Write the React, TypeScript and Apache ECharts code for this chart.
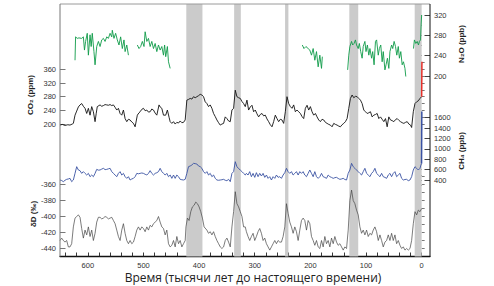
import React, { useEffect, useRef } from "react";
import * as echarts from "echarts";

// ---- axis ticks / labels ----
const X_TICKS = [0, 20, 40, 60, 80, 100, 120, 140, 160, 180, 200, 220, 240, 260, 280, 300, 320, 340, 360, 380, 400, 420, 440, 460, 480, 500, 520, 540, 560, 580, 600, 620, 640];
const X_LABELS = [0, 100, 200, 300, 400, 500, 600];
const CO2_TICKS = [200, 220, 240, 260, 280, 300, 320, 340, 360, 380];
const CO2_LABELS = [200, 240, 280, 320, 360];
const N2O_TICKS = [200, 220, 240, 260, 280, 300, 320];
const N2O_LABELS = [200, 240, 280, 320];
const CH4_TICKS = [300, 400, 500, 600, 700, 800, 900, 1000, 1100, 1200, 1300, 1400, 1500, 1600, 1700];
const CH4_LABELS = [400, 600, 800, 1000, 1200, 1400, 1600];
const DD_TICKS = [-440, -430, -420, -410, -400, -390, -380, -370, -360, -350];
const DD_LABELS = [-440, -420, -400, -380, -360];

// interglacial bands (kyr BP)
const BANDS = [[423, 394], [337, 325], [245.5, 239.5], [130, 114], [12.5, 0]];

// ---- data: [kyr BP, value] ----
const CO2 = [[650,197],[646,199],[641,196],[636,198],[632,197],[628,200],[626,202],[623,226],[620,238],[617,250],[614,256],[611,260],[608,252],[605,246],[602,231],[599,246],[596,226],[593,251],[590,236],[587,207],[585,230],[583,251],[580,254],[578,256],[575,252],[572,254],[569,257],[566,256],[563,255],[560,257],[557,254],[554,256],[551,249],[548,241],[545,246],[542,231],[539,226],[536,241],[533,216],[530,207],[527,214],[524,212],[521,206],[518,202],[515,192],[511,226],[508,233],[506,236],[503,243],[500,246],[497,239],[494,241],[491,235],[488,236],[485,244],[482,241],[479,232],[476,226],[472,256],[470,250],[467,246],[464,226],[460,226],[457,241],[454,220],[452,207],[449,202],[446,207],[443,200],[440,205],[437,203],[434,209],[431,204],[428,205],[425,212],[422,270],[419,272],[416,275],[413,273],[410,280],[407,277],[404,280],[401,283],[398,287],[395,285],[392,280],[389,265],[386,260],[383,251],[380,256],[377,246],[374,231],[371,222],[368,212],[365,204],[362,197],[359,200],[356,202],[353,221],[350,216],[347,209],[344,207],[341,241],[338,246],[335,299],[332,280],[329,277],[326,275],[323,266],[320,260],[317,251],[314,270],[311,241],[308,250],[305,255],[302,236],[299,241],[296,230],[293,221],[290,228],[287,231],[284,224],[281,226],[278,215],[275,207],[272,198],[269,192],[266,207],[263,226],[260,216],[257,207],[254,214],[251,212],[248,202],[245,236],[242,280],[239,260],[236,251],[233,246],[230,256],[227,236],[224,241],[221,236],[218,231],[215,222],[212,216],[209,246],[206,255],[203,241],[200,251],[197,236],[194,226],[191,231],[188,221],[185,212],[182,207],[179,214],[176,212],[173,205],[170,202],[167,199],[164,197],[161,192],[158,202],[155,199],[152,197],[149,194],[146,192],[143,198],[140,202],[137,207],[134,216],[131,246],[128,275],[125,285],[122,277],[119,281],[116,280],[113,275],[110,270],[107,260],[104,241],[101,236],[98,231],[95,233],[92,236],[89,221],[86,226],[83,228],[80,231],[77,216],[74,221],[71,214],[68,207],[65,216],[62,192],[59,221],[56,212],[53,210],[50,207],[47,213],[44,216],[41,211],[38,207],[35,204],[32,202],[29,205],[26,207],[23,200],[20,197],[18,190],[15,236],[12,260],[9,265],[6,268],[3,275],[0,280]];
const CO2_MODERN = [[0,280],[-0.5,382]];

const N2O = [[623,231],[622,277],[619,274],[616,275],[611,274],[608,277],[606,251],[604,268],[601,284],[599,241],[596,281],[594,258],[592,284],[589,248],[587,222],[584,258],[581,268],[578,258],[575,271],[572,274],[569,268],[566,277],[563,274],[560,284],[557,277],[556,290],[553,274],[550,284],[547,271],[544,261],[541,277],[538,254],[535,271],[533,248],[530,261],[527,241],[520,null],[511,261],[508,254],[505,258],[502,268],[499,258],[497,287],[494,268],[491,274],[488,258],[485,268],[482,254],[479,264],[476,248],[473,261],[470,251],[467,258],[464,241],[462,261],[460,238],[457,258],[455,228],[452,215],[300,null],[214.5,261],[211.5,254],[208,258],[204,254],[201,251],[198,241],[195,254],[192,231],[189,248],[186,218],[183,241],[180,215],[178.5,238],[150,null],[133,212],[131,241],[129,258],[126,268],[124,261],[121.5,264],[119,271],[117,261],[114,254],[112,264],[109.5,248],[107,235],[105,258],[102,268],[100,248],[97.5,261],[95,241],[93,254],[90,235],[88,248],[85.5,222],[83,268],[81,271],[78,241],[76,254],[73.5,261],[71,228],[69,248],[66,212],[64,222],[61.5,235],[59,215],[57,248],[54,261],[52,254],[49.5,268],[47,258],[44.7,241],[42,258],[40,235],[37.5,248],[35,222],[32.7,228],[30,215],[28.5,199],[22,null],[14.7,254],[13,271],[10.5,264],[8,268],[5.7,261],[4,268],[2,271],[1,300],[0,320]];

const CH4 = [[650,400],[647,390],[644,368],[641,395],[638,413],[635,420],[632,432],[629,368],[626,400],[623,528],[620,657],[617,593],[614,580],[611,528],[608,561],[605,528],[602,496],[599,528],[596,464],[593,496],[590,464],[587,528],[584,605],[581,590],[578,593],[575,610],[572,625],[569,600],[566,605],[563,615],[560,625],[557,561],[554,528],[551,496],[548,464],[545,528],[542,561],[539,496],[536,528],[533,464],[530,432],[527,464],[524,400],[521,420],[518,432],[515,464],[512,528],[509,520],[506,528],[503,535],[500,528],[497,510],[494,496],[491,528],[488,580],[485,528],[482,496],[479,528],[476,540],[473,561],[470,625],[467,561],[464,528],[461,496],[458,528],[455,464],[452,496],[449,432],[446,496],[443,432],[440,496],[437,464],[434,413],[431,405],[428,400],[425,413],[422,528],[419,657],[416,670],[413,689],[410,721],[407,715],[404,708],[401,670],[398,657],[395,625],[392,561],[389,528],[386,561],[383,496],[380,528],[377,464],[374,496],[371,432],[368,400],[365,395],[362,400],[359,405],[356,413],[353,395],[350,387],[347,413],[344,368],[341,528],[338,561],[335,753],[332,657],[329,620],[326,593],[323,561],[320,528],[317,496],[315,528],[312,496],[309,561],[306,464],[303,528],[300,451],[297,541],[294,464],[291,528],[288,477],[285,528],[282,451],[279,496],[276,432],[273,464],[270,400],[267,464],[264,432],[261,496],[258,451],[255,464],[252,432],[249,496],[246,541],[243,625],[240,561],[237,528],[234,561],[231,496],[228,528],[225,561],[222,496],[219,561],[216,528],[213,561],[210,496],[207,464],[204,528],[201,593],[198,528],[195,464],[192,561],[189,464],[186,432],[183,464],[180,528],[177,464],[174,450],[171,432],[168,496],[165,464],[162,450],[159,432],[156,445],[153,451],[150,430],[147,413],[144,420],[141,432],[138,410],[135,400],[132,528],[129,593],[126,721],[123,657],[120,625],[117,593],[114,560],[111,528],[108,496],[105,561],[102,625],[99,528],[96,496],[93,464],[90,528],[87,561],[84,625],[81,528],[78,496],[75,464],[72,528],[69,464],[66,450],[63,432],[60,496],[57,528],[54,464],[51,528],[48,561],[45,464],[42,496],[39,528],[36,432],[33,400],[30,410],[27,413],[24,387],[21,400],[18,464],[15,593],[12,657],[9,625],[6,593],[3,625],[1,700],[0,720]];
const CH4_MODERN = [[0.2,720],[-0.3,1720]];

const DD = [[650,-430],[647,-427],[644,-430],[641,-432],[638,-430],[635,-438],[632,-438],[629,-434],[626,-413],[623,-402],[620,-400],[617,-398],[614,-401],[611,-415],[608,-427],[605,-417],[602,-423],[599,-413],[596,-425],[593,-417],[590,-430],[587,-421],[584,-407],[581,-401],[578,-401],[575,-403],[572,-402],[569,-400],[566,-401],[563,-403],[560,-402],[557,-401],[554,-405],[551,-409],[548,-417],[545,-425],[542,-430],[539,-417],[536,-409],[533,-421],[530,-430],[527,-434],[524,-430],[521,-434],[518,-432],[515,-425],[512,-417],[509,-413],[506,-417],[503,-413],[500,-415],[497,-419],[494,-413],[491,-417],[488,-411],[485,-413],[482,-409],[479,-407],[476,-405],[473,-400],[470,-407],[467,-413],[464,-415],[461,-423],[458,-417],[455,-434],[452,-438],[449,-436],[446,-430],[443,-438],[440,-425],[437,-434],[434,-430],[431,-438],[428,-434],[425,-430],[423.6,-413],[421,-402],[418,-405],[415,-394],[412,-388],[409,-386],[406,-382],[403,-384],[400,-388],[397,-394],[394,-402],[391,-413],[386,-417],[383,-421],[380,-419],[377,-423],[374,-419],[371,-425],[368,-430],[365,-434],[362,-438],[359,-440],[356,-438],[353,-430],[350,-427],[347,-432],[344,-438],[341,-413],[338,-394],[335,-369],[332,-384],[329,-388],[326,-394],[323,-400],[320,-413],[317,-413],[315,-419],[312,-425],[309,-430],[306,-425],[303,-421],[300,-430],[297,-425],[294,-419],[291,-415],[288,-421],[285,-430],[282,-427],[279,-434],[276,-438],[273,-442],[270,-438],[267,-434],[264,-430],[261,-434],[258,-430],[255,-432],[252,-432],[249,-425],[246,-413],[243,-384],[240,-396],[237,-407],[234,-413],[231,-421],[228,-413],[225,-419],[222,-430],[219,-417],[216,-405],[213,-402],[210,-405],[207,-417],[204,-405],[201,-409],[198,-425],[195,-430],[192,-436],[189,-430],[186,-438],[183,-440],[180,-430],[177,-438],[174,-425],[171,-434],[168,-430],[165,-438],[162,-427],[159,-434],[156,-425],[153,-432],[150,-436],[147,-434],[144,-438],[141,-442],[138,-438],[135,-440],[132,-417],[129,-380],[126,-367],[123,-380],[120,-384],[117,-392],[114,-398],[111,-413],[108,-421],[105,-417],[102,-423],[99,-417],[96,-425],[93,-421],[90,-423],[87,-417],[84,-413],[81,-419],[78,-430],[75,-423],[72,-430],[69,-438],[66,-432],[63,-430],[60,-423],[57,-430],[54,-421],[51,-430],[48,-423],[45,-434],[42,-430],[39,-436],[36,-440],[33,-438],[30,-442],[27,-440],[24,-442],[21,-440],[18,-430],[15,-409],[12,-394],[9,-398],[6,-392],[3,-394],[0,-390]];

const FONT = "'Liberation Sans', Arial, Helvetica, sans-serif";
const GREEN = "#0f9b48";
const BLUE = "#3a52a3";
const RED = "#e8302a";

const plain = (v: number) => String(v);

function yPair(gridIndex: number, position: string, min: number, max: number, ticks: number[], labels: number[], tickColor: string) {
  const base = { type: "value", gridIndex, position, min, max, axisLine: { show: false }, splitLine: { show: false } };
  return [
    {
      ...base,
      axisTick: { show: true, inside: true, length: 3, customValues: ticks, lineStyle: { color: tickColor, width: 0.8 } },
      axisLabel: { show: true, customValues: labels, formatter: plain, fontSize: 7.5, color: "#333", margin: 4, fontFamily: FONT },
    },
    {
      ...base,
      axisTick: { show: true, inside: true, length: 5.5, customValues: labels, lineStyle: { color: tickColor, width: 0.8 } },
      axisLabel: { show: false },
    },
  ];
}

export default function App() {
  const ref = useRef<HTMLDivElement>(null);
  useEffect(() => {
    if (!ref.current) return;
    const chart = echarts.init(ref.current, null, { renderer: "svg" });
    const L = 60, R = 64;
    const grids = [
      { left: L, right: R, top: 4, height: 252.5 },
      { left: L, right: R, top: 15, height: 61 },
      { left: L, right: R, top: 62.5, height: 68.4 },
      { left: L, right: R, top: 112.5, height: 72.7 },
      { left: L, right: R, top: 176.5, height: 80 },
    ].map((g) => ({ ...g, containLabel: false, outerBoundsMode: "none" }));

    const xAxes = [0, 1, 2, 3, 4].map((i) => ({
      type: "value",
      gridIndex: i,
      min: -15,
      max: 650,
      inverse: true,
      show: i === 0,
      position: "bottom",
      axisLine: { show: true, lineStyle: { color: "#111", width: 1.3 } },
      axisTick: { show: true, inside: true, length: 4, customValues: X_TICKS, lineStyle: { color: "#222", width: 0.9 } },
      axisLabel: { show: true, customValues: X_LABELS, formatter: plain, fontSize: 7.5, color: "#333", margin: 5, fontFamily: FONT },
      splitLine: { show: false },
    }));

    const yAxes = [
      { type: "value", gridIndex: 0, min: 0, max: 1, show: false },
      ...yPair(1, "right", 200, 320, N2O_TICKS, N2O_LABELS, "#111"),
      ...yPair(2, "left", 180, 380, CO2_TICKS, CO2_LABELS, "#555"),
      ...yPair(3, "right", 300, 1700, CH4_TICKS, CH4_LABELS, "#111"),
      ...yPair(4, "left", -450, -350, DD_TICKS, DD_LABELS, "#555"),
    ];

    const lineBase = { type: "line", showSymbol: false, symbol: "none", clip: false, connectNulls: false, silent: true };

    const option = {
      animation: false,
      grid: grids,
      xAxis: xAxes,
      yAxis: yAxes,
      series: [
        {
          ...lineBase,
          xAxisIndex: 0,
          yAxisIndex: 0,
          data: [[650, 0.5]],
          lineStyle: { opacity: 0 },
          z: 0,
          markArea: {
            silent: true,
            itemStyle: { color: "#cbcbcb" },
            data: BANDS.map((b) => [{ xAxis: b[0] }, { xAxis: b[1] }]),
          },
        },
        { ...lineBase, name: "N2O", xAxisIndex: 1, yAxisIndex: 1, data: N2O, lineStyle: { color: GREEN, width: 0.9 } },
        { ...lineBase, name: "CO2", xAxisIndex: 2, yAxisIndex: 3, data: CO2, lineStyle: { color: "#111", width: 0.9 } },
        { ...lineBase, name: "CO2 modern", xAxisIndex: 2, yAxisIndex: 3, data: CO2_MODERN, lineStyle: { color: RED, width: 1.5 } },
        { ...lineBase, name: "CH4", xAxisIndex: 3, yAxisIndex: 5, data: CH4, lineStyle: { color: BLUE, width: 0.9 } },
        { ...lineBase, name: "CH4 modern", xAxisIndex: 3, yAxisIndex: 5, data: CH4_MODERN, lineStyle: { color: BLUE, width: 1.5 } },
        { ...lineBase, name: "dD", xAxisIndex: 4, yAxisIndex: 7, data: DD, lineStyle: { color: "#444", width: 0.7 } },
      ],
      graphic: [
        { type: "line", shape: { x1: L, y1: 4, x2: 430, y2: 4 }, style: { stroke: "#9a9a9a", lineWidth: 1 }, z: 10 },
        { type: "line", shape: { x1: L, y1: 4, x2: L, y2: 256.5 }, style: { stroke: "#777", lineWidth: 1 }, z: 10 },
        { type: "line", shape: { x1: 430, y1: 4, x2: 430, y2: 256.5 }, style: { stroke: "#111", lineWidth: 1 }, z: 10 },
        { type: "text", x: 30, y: 95, rotation: Math.PI / 2, style: { text: "CO\u2082 (ppm)", fontSize: 8, fontWeight: "bold", fontFamily: FONT, fill: "#222", align: "center", verticalAlign: "middle" } },
        { type: "text", x: 33, y: 214, rotation: Math.PI / 2, style: { text: "\u03b4D (\u2030)", fontSize: 8, fontWeight: "bold", fontFamily: FONT, fill: "#222", align: "center", verticalAlign: "middle" } },
        { type: "text", x: 461, y: 44, rotation: Math.PI / 2, style: { text: "N\u2082O (ppb)", fontSize: 8, fontWeight: "bold", fontFamily: FONT, fill: "#222", align: "center", verticalAlign: "middle" } },
        { type: "text", x: 461, y: 151, rotation: Math.PI / 2, style: { text: "CH\u2084 (ppb)", fontSize: 8, fontWeight: "bold", fontFamily: FONT, fill: "#222", align: "center", verticalAlign: "middle" } },
        { type: "text", x: 253, y: 277, style: { text: "Время (тысячи лет до настоящего времени)", fontSize: 12, fontFamily: "'Open Sans', 'Noto Sans', sans-serif", fill: "#222", align: "center", verticalAlign: "middle" } },
      ],
    };
    chart.setOption(option as any);
    return () => chart.dispose();
  }, []);
  return <div ref={ref} style={{ position: "fixed", left: 0, top: 0, width: 494, height: 286, background: "#fff" }} />;
}
